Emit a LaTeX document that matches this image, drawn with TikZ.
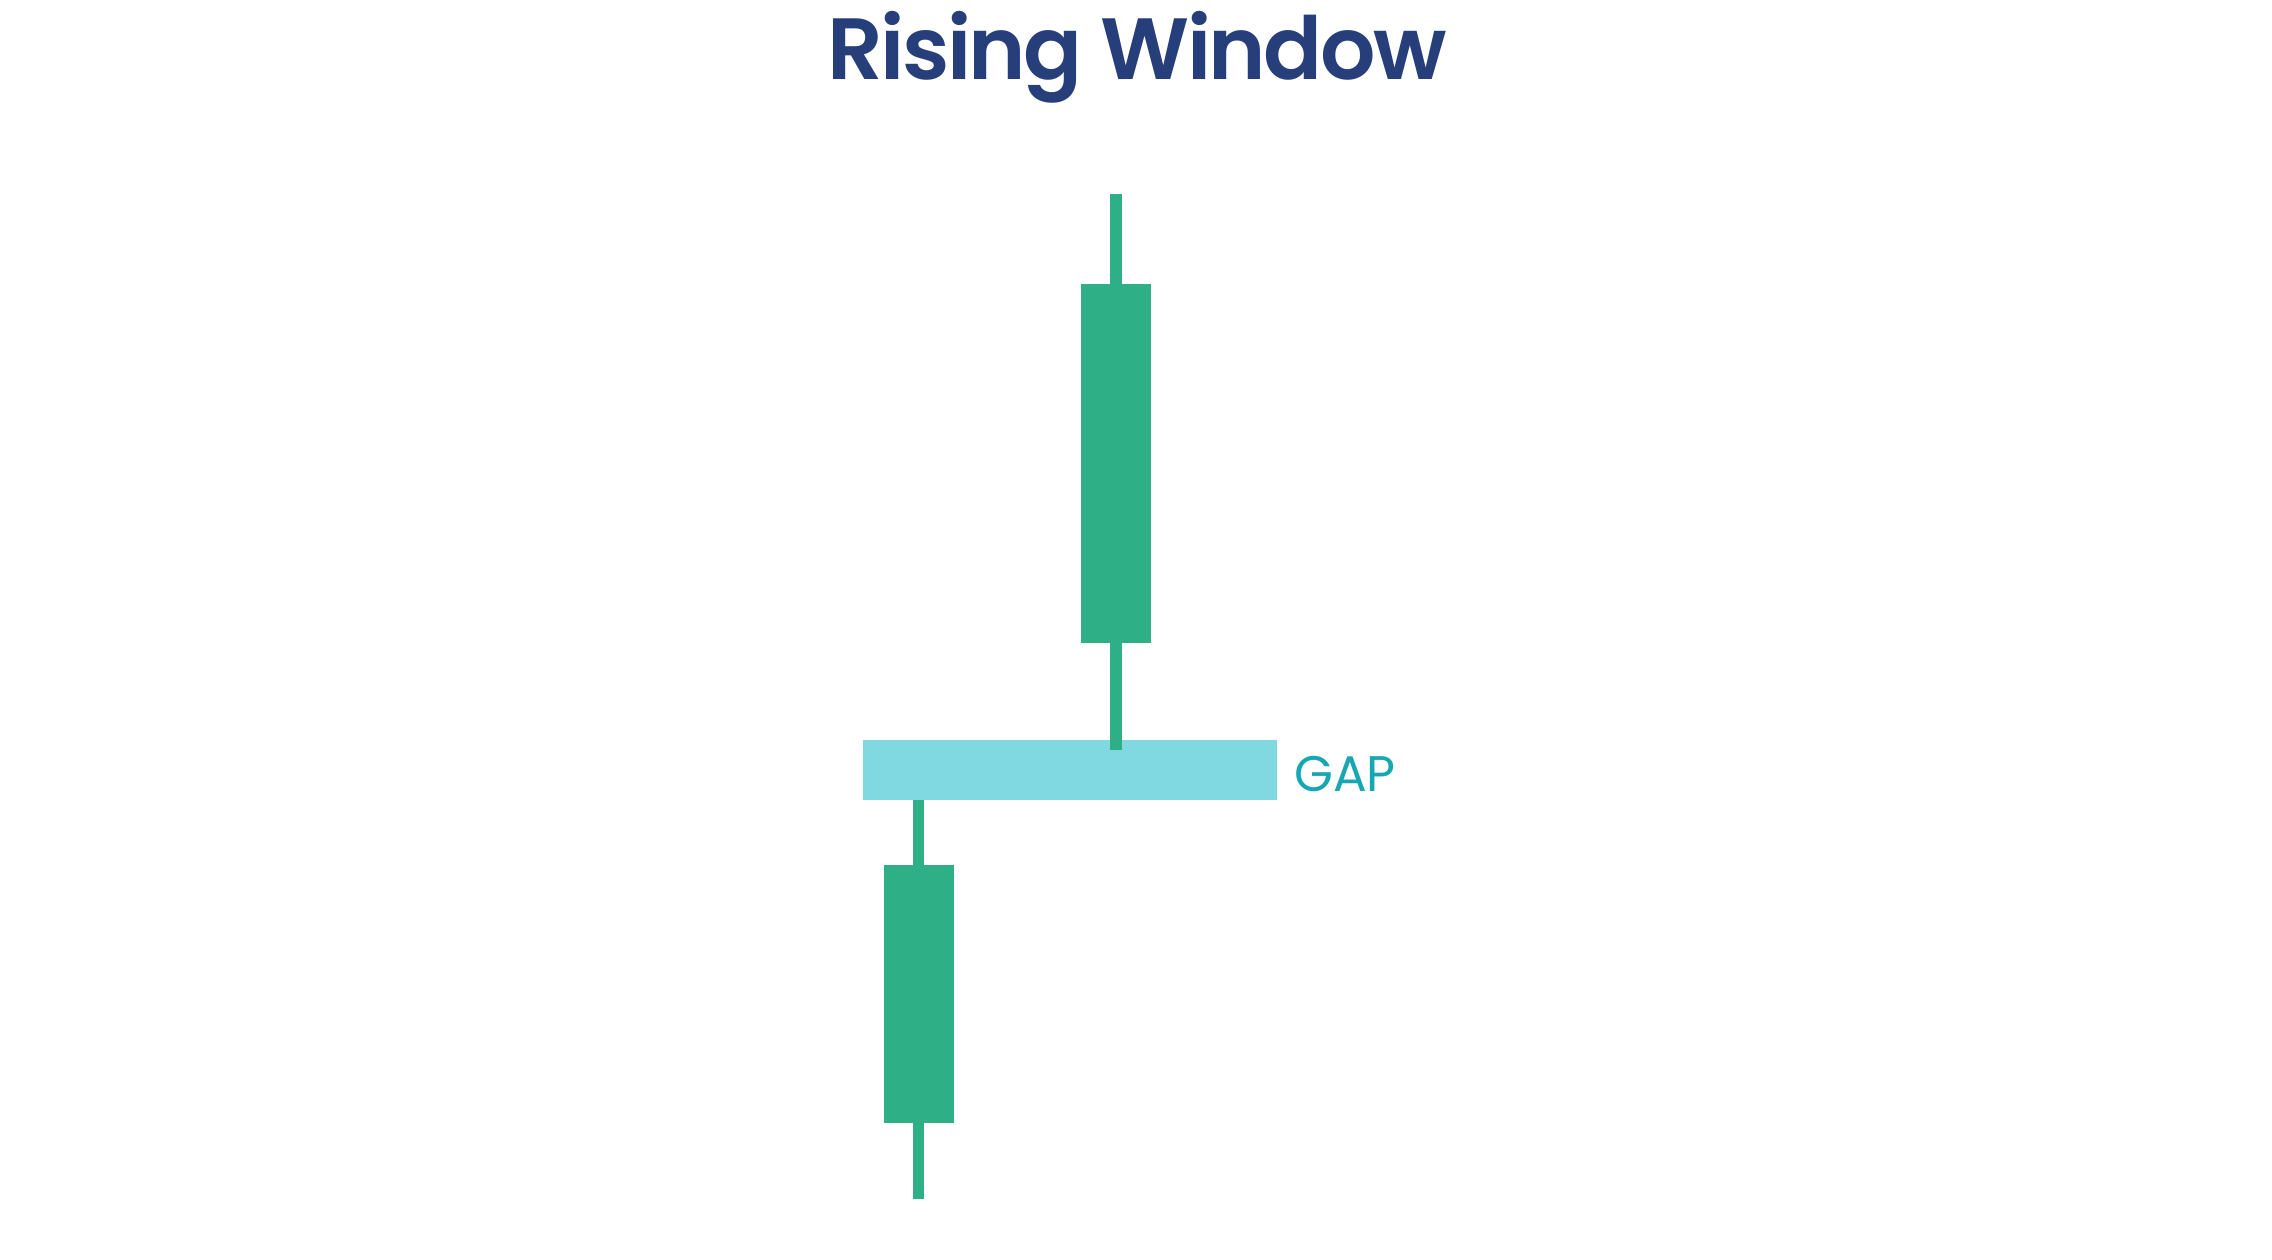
\documentclass[tikz,border=0pt]{standalone}
\usepackage{fontspec}
\newfontfamily\poppins{Poppins}
\newfontfamily\poppinssemi{Poppins SemiBold}[LetterSpace=-3]
\definecolor{titleblue}{HTML}{263F7A}
\definecolor{candlegreen}{HTML}{2EAF85}
\definecolor{gapcyan}{HTML}{80D8E0}
\definecolor{gaptext}{HTML}{17A7B3}
\tikzset{
  candle/.style={fill=candlegreen},
  wickline/.style={fill=candlegreen},
  gapband/.style={fill=gapcyan},
}
\begin{document}
\begin{tikzpicture}[x=1pt,y=-1pt]
\useasboundingbox (0,0) rectangle (2272,1260);
% title
\node[anchor=base, inner sep=0pt, text=titleblue, font=\poppinssemi\fontsize{87}{100}\selectfont] (title) at (1137,80) {Rising Window};
% gap band
\fill[gapband] (863,740) rectangle (1277,800);
\node[anchor=base west, inner sep=0pt, text=gaptext, font=\poppins\fontsize{50}{60}\selectfont] (gap) at (1294,791) {GAP};
% upper candle
\fill[wickline] (1110,194) rectangle (1121.5,750);
\fill[candle] (1081,284) rectangle (1151,643);
% lower candle
\fill[wickline] (912.5,800) rectangle (924,1199);
\fill[candle] (883.5,865) rectangle (953.5,1123);
\end{tikzpicture}
\end{document}
